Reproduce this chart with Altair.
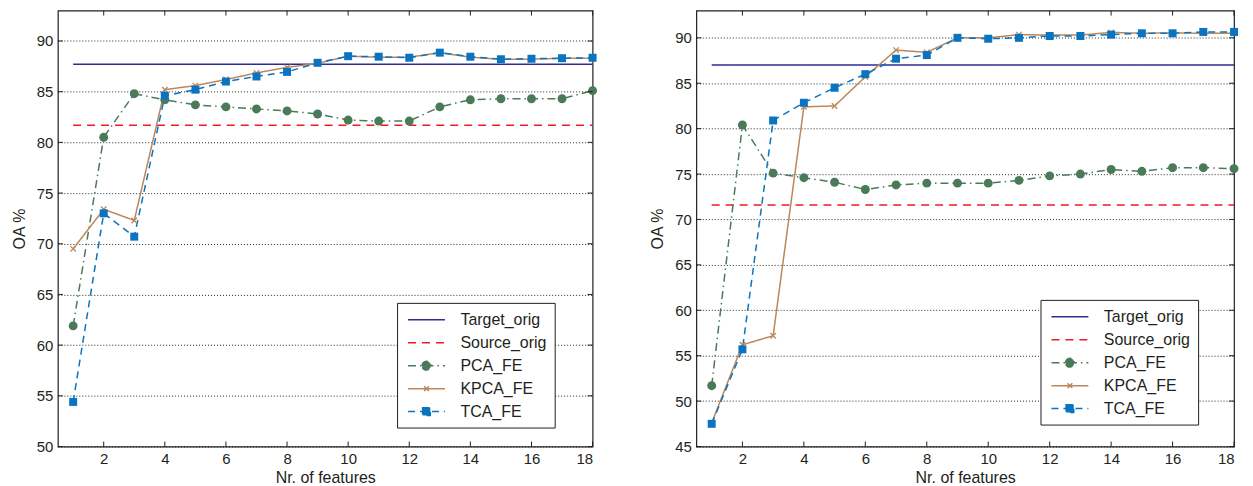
import altair as alt
import pandas as pd

# ---------------- data ----------------
features = list(range(1, 19))
series_names = ["Target_orig", "Source_orig", "PCA_FE", "KPCA_FE", "TCA_FE"]

left_target = 87.7
left_source = 81.7
left_pca = [61.9, 80.5, 84.8, 84.2, 83.7, 83.5, 83.3, 83.1, 82.8, 82.2, 82.1, 82.1, 83.5, 84.2, 84.3, 84.3, 84.3, 85.1]
left_kpca = [69.5, 73.4, 72.3, 85.2, 85.6, 86.2, 86.85, 87.4, 87.8, 88.5, 88.4, 88.4, 88.85, 88.4, 88.2, 88.2, 88.3, 88.3]
left_tca = [54.4, 73.0, 70.7, 84.6, 85.2, 86.0, 86.5, 86.95, 87.85, 88.5, 88.45, 88.35, 88.85, 88.45, 88.2, 88.25, 88.3, 88.35]

right_target = 87.0
right_source = 71.6
right_pca = [51.7, 80.4, 75.1, 74.6, 74.1, 73.3, 73.8, 74.0, 74.0, 74.0, 74.3, 74.8, 75.0, 75.5, 75.3, 75.7, 75.7, 75.6]
right_kpca = [47.6, 56.2, 57.2, 82.4, 82.5, 85.7, 88.65, 88.4, 90.0, 90.0, 90.35, 90.3, 90.3, 90.6, 90.5, 90.55, 90.5, 90.5]
right_tca = [47.5, 55.7, 80.9, 82.85, 84.5, 86.0, 87.7, 88.1, 90.0, 89.9, 90.0, 90.2, 90.2, 90.35, 90.5, 90.5, 90.65, 90.65]

x_ticks = list(range(2, 19, 2))
left_y_ticks = list(range(50, 91, 5))
right_y_ticks = list(range(45, 91, 5))

# ---------------- styles ----------------
colors = {"Target_orig": "#2E2C91", "Source_orig": "#EC1C24", "PCA_FE": "#4A7A58",
          "KPCA_FE": "#BC875A", "TCA_FE": "#0A74C1"}
dashes = {"Target_orig": [1, 0], "Source_orig": [8, 6], "PCA_FE": [8, 4, 1.5, 4],
          "KPCA_FE": [1, 0], "TCA_FE": [7, 5]}
# legend symbol paths in units of 8px (symbolSize 256)
H = 2.3125
legend_paths = {
    "Target_orig": f"M-{H},0H{H}",
    "Source_orig": f"M-{H},0H{H}",
    "PCA_FE": f"M-{H},0H{H}M-0.55,0A0.55,0.55,0,1,1,0.55,0A0.55,0.55,0,1,1,-0.55,0",
    "KPCA_FE": f"M-{H},0H{H}M-0.3,-0.3L0.3,0.3M-0.3,0.3L0.3,-0.3",
    "TCA_FE": f"M-{H},0H{H}M-0.48,-0.48H0.48V0.48H-0.48Z",
}
FONT = "Liberation Sans"
TXT = "#231F20"


def chain(mapping, default):
    expr = default
    for k, v in reversed(list(mapping.items())):
        expr = f"datum.value === '{k}' ? {v} : ({expr})"
    return expr


shape_expr = chain({k: f"'{v}'" for k, v in legend_paths.items()}, "'M-1,0H1'")
fill_expr = chain({"PCA_FE": f"'{colors['PCA_FE']}'", "TCA_FE": f"'{colors['TCA_FE']}'"}, "'transparent'")
dash_expr = chain({k: str(v) for k, v in dashes.items()}, "[1,0]")


def panel(target, source, pca, kpca, tca, ydomain, yticks, width, height, lx, ly):
    rows = []
    for s, val in (("Target_orig", target), ("Source_orig", source)):
        for xv in (features[0], features[-1]):
            rows.append({"series": s, "x": xv, "y": val})
    for s, vals in (("PCA_FE", pca), ("KPCA_FE", kpca), ("TCA_FE", tca)):
        for xv, yv in zip(features, vals):
            rows.append({"series": s, "x": xv, "y": yv})
    df = pd.DataFrame(rows)

    xscale = alt.Scale(domain=[0.5, 18], nice=False, zero=False)
    yscale = alt.Scale(domain=ydomain, nice=False, zero=False)
    xaxis = alt.Axis(values=x_ticks, title="Nr. of features", grid=False,
                     labelPadding=5, titlePadding=3, titleFontSize=16)
    yaxis = alt.Axis(values=yticks, title="OA %", grid=True, gridDash=[1, 2],
                     gridColor="#111", gridWidth=0.9, labelPadding=5, titlePadding=9,
                     titleFontSize=16)

    legend = alt.Legend(
        title=None, orient="none", legendX=lx, legendY=ly,
        symbolType=alt.ExprRef(expr=shape_expr),
        symbolFillColor=alt.ExprRef(expr=fill_expr),
        symbolDash=alt.ExprRef(expr=dash_expr),
        symbolSize=256, symbolStrokeWidth=1.5, symbolOpacity=1,
        labelFont=FONT, labelFontSize=16, labelColor=TXT, labelOffset=25,
        labelExpr="datum.label + '\u00a0\u00a0'",
        labelLimit=0, rowPadding=6, padding=8, strokeColor="#231F20",
        fillColor="white", symbolOffset=12.5,
    )

    base = alt.Chart(df)
    enc_xy = dict(x=alt.X("x:Q", scale=xscale, axis=xaxis),
                  y=alt.Y("y:Q", scale=yscale, axis=yaxis))
    lines = base.mark_line(strokeWidth=1.5).encode(
        **enc_xy,
        color=alt.Color("series:N", scale=alt.Scale(domain=series_names,
                        range=[colors[s] for s in series_names]), legend=legend),
        strokeDash=alt.StrokeDash("series:N", scale=alt.Scale(domain=series_names,
                                  range=[dashes[s] for s in series_names]), legend=None),
    )
    pts_pca = base.transform_filter(alt.datum.series == "PCA_FE").mark_point(
        shape="circle", filled=True, size=80, opacity=1, color=colors["PCA_FE"]
    ).encode(**enc_xy)
    pts_kpca = base.transform_filter(alt.datum.series == "KPCA_FE").mark_point(
        shape="M-1,-1L1,1M-1,1L1,-1", filled=False, size=30, strokeWidth=1.3,
        opacity=1, color=colors["KPCA_FE"]
    ).encode(**enc_xy)
    pts_tca = base.transform_filter(alt.datum.series == "TCA_FE").mark_point(
        shape="square", filled=True, size=64, opacity=1, color=colors["TCA_FE"]
    ).encode(**enc_xy)

    xt = alt.Chart(pd.DataFrame({"x": x_ticks}))
    yt = alt.Chart(pd.DataFrame({"y": yticks}))
    tick_top = xt.mark_rule(color=TXT).encode(
        x=alt.X("x:Q", scale=xscale, axis=xaxis), y=alt.value(0), y2=alt.value(5))
    tick_bot = xt.mark_rule(color=TXT).encode(
        x=alt.X("x:Q", scale=xscale, axis=xaxis), y=alt.value(height), y2=alt.value(height - 5))
    tick_left = yt.mark_rule(color=TXT).encode(
        y=alt.Y("y:Q", scale=yscale, axis=yaxis), x=alt.value(0), x2=alt.value(5))
    tick_right = yt.mark_rule(color=TXT).encode(
        y=alt.Y("y:Q", scale=yscale, axis=yaxis), x=alt.value(width - 5), x2=alt.value(width))

    return alt.layer(lines, pts_pca, pts_kpca, pts_tca,
                     tick_top, tick_bot, tick_left, tick_right).properties(
        width=width, height=height)


left = panel(left_target, left_source, left_pca, left_kpca, left_tca,
             [50, 93], left_y_ticks, 536, 437, 340, 293)
right = panel(right_target, right_source, right_pca, right_kpca, right_tca,
              [45, 93], right_y_ticks, 539, 437, 345, 290)

chart = alt.hconcat(left, right, spacing=50).resolve_scale(
    color="independent", strokeDash="independent"
).resolve_legend(color="independent").properties(
    padding={"left": 2, "top": 0, "right": 5, "bottom": 0}
).configure_view(stroke=TXT, strokeWidth=1.2).configure_axis(
    labelFont=FONT, titleFont=FONT, labelFontSize=15, titleFontSize=16,
    titleFontWeight="normal", labelColor=TXT, titleColor=TXT,
    domain=False, ticks=False,
)

chart.save("out.html", embed_options={"renderer": "svg", "actions": False})
